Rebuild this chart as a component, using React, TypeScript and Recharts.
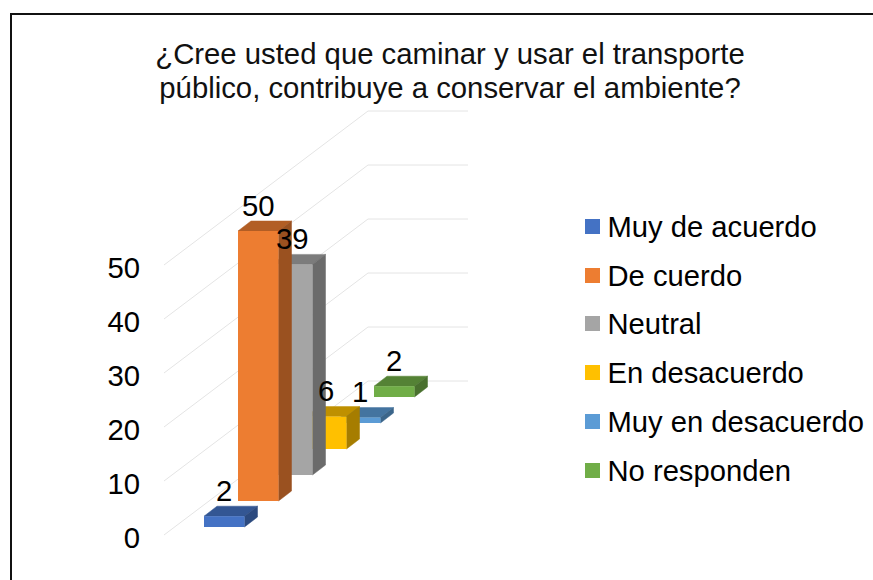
import React from "react";
import { BarChart, Bar, XAxis, YAxis, LabelList, CartesianGrid } from "recharts";

const seriesNames = [
  "Muy de acuerdo",
  "De cuerdo",
  "Neutral",
  "En desacuerdo",
  "Muy en desacuerdo",
  "No responden",
];
const seriesValues = [2, 50, 39, 6, 1, 2];
const seriesColors = ["#4472C4", "#ED7D31", "#A5A5A5", "#FFC000", "#5B9BD5", "#70AD47"];
const valueTicks = [0, 10, 20, 30, 40, 50];
const titleLines = [
  "¿Cree usted que caminar y usar el transporte",
  "público, contribuye a conservar el ambiente?",
];

const FONT = "'Liberation Sans', Arial, sans-serif";
const BAR_WIDTH = 40.5;
// oblique projection of the 3D box
const SIDE_DX = 13;
const SIDE_DY = 10;
const ROW_DY = 26;
const FRONT_DY = 8;
const WALL_DX = 204;
const WALL_DY = 154;

const rows = seriesNames.map((name, i) => ({ name, [name]: seriesValues[i] }));

const poly = (pts: number[][]) => pts.map((p) => p.join(",")).join(" ");

const shade = (hex: string, k: number) => {
  const n = parseInt(hex.slice(1), 16);
  const c = [n >> 16, (n >> 8) & 255, n & 255].map((v) => Math.round(v * k));
  return `rgb(${c.join(",")})`;
};

// front face plus darker top and side faces
const Box3D = (props: any) => {
  const { x, y, height, fill, index } = props;
  if (!height) return null;
  const shift = FRONT_DY + ROW_DY * index;
  const l = x;
  const r = x + BAR_WIDTH;
  const t = y - shift;
  const b = y + height - shift;
  const top = poly([[l, t], [r, t], [r + SIDE_DX, t - SIDE_DY], [l + SIDE_DX, t - SIDE_DY]]);
  const side = poly([[r, t], [r + SIDE_DX, t - SIDE_DY], [r + SIDE_DX, b - SIDE_DY], [r, b]]);
  return (
    <g>
      <polygon points={top} fill={shade(fill, 0.75)} stroke={shade(fill, 0.75)} strokeWidth={0.5} />
      <polygon points={side} fill={shade(fill, 0.65)} stroke={shade(fill, 0.65)} strokeWidth={0.5} />
      <rect x={l} y={t} width={BAR_WIDTH} height={b - t} fill={fill} />
    </g>
  );
};

const BoxLabel = (props: any) => {
  const { x, y, height, index, value } = props;
  if (!height) return null;
  return (
    <text
      x={x + BAR_WIDTH / 2}
      y={y - FRONT_DY - ROW_DY * index - SIDE_DY - 5.5}
      textAnchor="middle"
      fontSize={29.3}
      fontFamily={FONT}
      fill="#000"
    >
      {Array.isArray(value) ? value[1] : value}
    </text>
  );
};

// gridline runs across the floor side, then along the back wall
const WallLine = (props: any) => {
  const { y1 } = props;
  const x0 = 164;
  return (
    <polyline
      points={poly([[x0, y1], [x0 + WALL_DX, y1 - WALL_DY], [468, y1 - WALL_DY]])}
      fill="none"
      stroke="#E4E4E4"
      strokeWidth={1}
    />
  );
};

const WallTick = (props: any) => {
  const { y, payload } = props;
  return (
    <text x={140} y={y + 13} textAnchor="end" fontSize={29.3} fontFamily={FONT} fill="#000">
      {payload.value}
    </text>
  );
};

const LegendList = () => (
  <div style={{ position: "absolute", left: 585, top: 212, fontFamily: FONT, fontSize: 29.2, color: "#000" }}>
    {seriesNames.map((name, i) => (
      <div key={name} style={{ position: "absolute", left: 0, top: i * 48.7, height: 30, whiteSpace: "nowrap" }}>
        <span
          style={{
            position: "absolute",
            left: 0,
            top: 7,
            width: 15,
            height: 15,
            background: seriesColors[i],
          }}
        />
        <span style={{ position: "absolute", left: 22.5, top: -2, lineHeight: "34px" }}>{name}</span>
      </div>
    ))}
  </div>
);

export default function App() {
  return (
    <div style={{ position: "absolute", left: 0, top: 0, width: 873, height: 580, overflow: "hidden", background: "#fff" }}>
      <div
        style={{
          position: "absolute",
          left: 10,
          top: 13,
          width: 870,
          height: 580,
          borderLeft: "2px solid #111",
          borderTop: "2px solid #111",
        }}
      />
      <div
        style={{
          position: "absolute",
          left: 100,
          width: 700,
          top: 37,
          textAlign: "center",
          fontFamily: FONT,
          fontSize: 29.3,
          lineHeight: "34px",
          color: "#111",
        }}
      >
        {titleLines.map((line) => (
          <div key={line}>{line}</div>
        ))}
      </div>
      <LegendList />
      <BarChart
        width={873}
        height={580}
        data={rows}
        barCategoryGap={0}
        margin={{ top: 265, right: 465, bottom: 45, left: 164 }}
        style={{ position: "absolute", left: 0, top: 0 }}
      >
        <CartesianGrid vertical={false} horizontal={WallLine} />
        <XAxis dataKey="name" hide />
        <YAxis
          width={40}
          domain={[0, 50]}
          ticks={valueTicks}
          interval={0}
          axisLine={false}
          tickLine={false}
          tick={WallTick}
        />
        {/* far boxes first so nearer ones cover them */}
        {[...seriesNames].reverse().map((name) => (
          <Bar
            key={name}
            dataKey={name}
            stackId="a"
            fill={seriesColors[seriesNames.indexOf(name)]}
            shape={Box3D}
            isAnimationActive={false}
          >
            <LabelList dataKey={name} content={BoxLabel} />
          </Bar>
        ))}
      </BarChart>
    </div>
  );
}
